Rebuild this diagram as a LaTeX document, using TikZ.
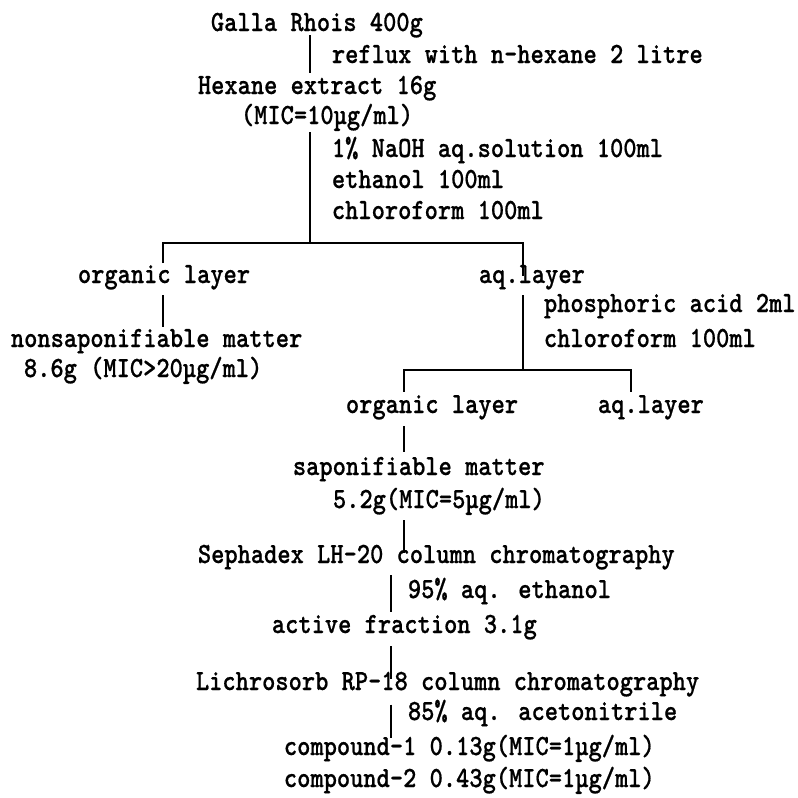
\documentclass[tikz,border=0pt]{standalone}
\usepackage{fontspec}
\usepackage{tikz}
\usetikzlibrary{positioning}
\newfontfamily\flowfont{lmmonolt10-bold}[Extension=.otf, FakeStretch=0.86, FakeBold=0.6]
\tikzset{every picture/.style={line width=1.4pt}}
\tikzset{txt/.style={anchor=base west, inner sep=0pt, font=\flowfont\fontsize{22}{26}\selectfont}}

\begin{document}
\begin{tikzpicture}[x=0.75pt,y=-0.75pt]
	\useasboundingbox (0,0) rectangle (798,797);
        % columns of the flow lines
        \coordinate (cA) at (310,0);
        \coordinate (cL) at (163,0);
        \coordinate (cR) at (523,0);
        \coordinate (cL2) at (404,0);
        \coordinate (cR2) at (631,0);
        \coordinate (cB) at (391,0);
        \coordinate (fork1) at (310,243);
        \coordinate (fork2) at (523,370);
        %
        \node[txt] (galla) at (210,31) {Galla Rhois 400g};
        \node[txt] (reflux) at (331,63) {reflux with n-hexane 2 litre};
        \node[txt] (hexane) at (197,94) {Hexane extract 16g};
        \node[txt] (hexmic) at (240,124) {(MIC=10µg/ml)};
        \node[txt] (naoh) at (331,157) {1\% NaOH aq.solution 100ml};
        \node[txt] (etoh) at (331,188) {ethanol 100ml};
        \node[txt] (chcl1) at (331,219) {chloroform 100ml};
        \node[txt] (org1) at (77,283) {organic layer};
        \node[txt] (aq1) at (478,283) {aq.layer};
        \node[txt] (nonsap) at (10,347) {nonsaponifiable matter};
        \node[txt] (nonmic) at (23,377) {8.6g (MIC>20µg/ml)};
        \node[txt] (phos) at (543,312) {phosphoric acid 2ml};
        \node[txt] (chcl2) at (543,347) {chloroform 100ml};
        \node[txt] (org2) at (345,413) {organic layer};
        \node[txt] (aq2) at (597,413) {aq.layer};
        \node[txt] (sap) at (292,475) {saponifiable matter};
        \node[txt] (sapmic) at (332,508) {5.2g(MIC=5µg/ml)};
        \node[txt] (seph) at (197,563) {Sephadex LH-20 column chromatography};
        \node[txt] (eth95) at (407,598) {95\% aq. ethanol};
        \node[txt] (active) at (271,633) {active fraction 3.1g};
        \node[txt] (lichro) at (195,690) {Lichrosorb RP-18 column chromatography};
        \node[txt] (acn) at (407,720) {85\% aq. acetonitrile};
        \node[txt] (cpd1) at (283,755) {compound-1 0.13g(MIC=1µg/ml)};
        \node[txt] (cpd2) at (283,787) {compound-2 0.43g(MIC=1µg/ml)};
        %
        \draw ([yshift=-3pt]galla.base -| cA) -- ++(0,38);
        \draw ([yshift=-6pt]hexmic.base -| cA) -- (fork1);
        \draw ([yshift=15pt]org1.base -| cL) |- (fork1) -| ([yshift=5pt]aq1.base -| cR);
        \draw ([yshift=-9pt]org1.base -| cL) -- ++(0,32);
        \draw ([yshift=-9pt]aq1.base -| cR) -- (fork2);
        \draw ([yshift=16pt]org2.base -| cL2) |- (fork2) -| ([yshift=16pt]aq2.base -| cR2);
        \draw ([yshift=-10pt]org2.base -| cL2) -- ++(0,26);
        \draw ([yshift=-9pt]sapmic.base -| cL2) -- ++(0,33);
        \draw ([yshift=-9pt]seph.base -| cB) -- ++(0,37);
        \draw ([yshift=-10pt]active.base -| cB) -- ++(0,33);
        \draw ([yshift=-11pt]lichro.base -| cB) -- ++(0,33);
\end{tikzpicture}
\end{document}
